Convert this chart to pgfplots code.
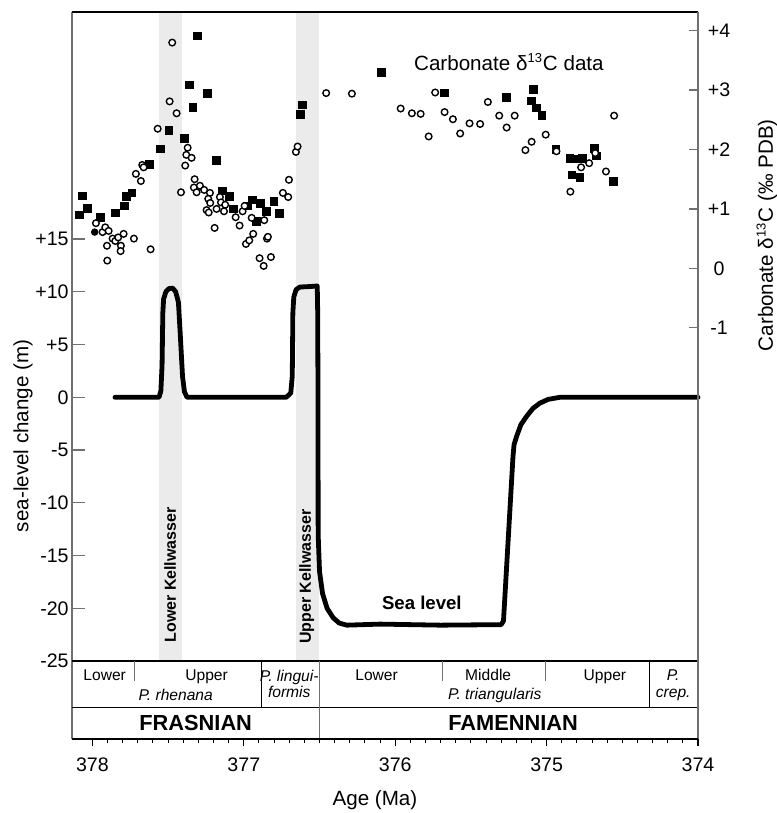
\documentclass[border=0pt]{standalone}
\usepackage{pgfplots}
\pgfplotsset{compat=1.18}
\usepackage{fontspec}
\setmainfont{Liberation Sans}
\definecolor{band}{HTML}{EBEBEB}
\definecolor{spine}{HTML}{707070}

\begin{document}
\begin{tikzpicture}
\pgfplotsset{
  common/.style={
    scale only axis, width=313pt, height=363.5pt,
    xmin=374, xmax=378.135, x dir=reverse,
    clip=false,
    /pgf/number format/assume math mode=true,
  }
}
% ---------------- left axis: sea level ----------------
\begin{axis}[common, name=main,
  ymin=-32.39, ymax=36.52,
  axis x line=none, axis y line*=left,
  tick align=inside,
  ytick={-25,-20,-15,-10,-5,0,5,10,15},
  yticklabels={-25,-20,-15,-10,-5,0,+5,+10,+15},
  major tick length=6.5pt,
  y axis line style={spine, line width=0.7pt},
  ytick style={spine, line width=0.7pt},
  yticklabel style={font=\fontsize{9.8}{11}\selectfont, inner sep=1.5pt},
  ylabel={sea-level change (m)},
  ylabel style={at={(axis description cs:-0.078,0.417)}, anchor=center, font=\fontsize{10.3}{12}\selectfont},
]
% Kellwasser bands
\fill[band] (axis cs:377.561,-25) rectangle (axis cs:377.411,36.52);
\fill[band] (axis cs:376.656,-25) rectangle (axis cs:376.506,36.52);
% top frame line
\draw[black, line width=0.6pt] (rel axis cs:0,1) -- (rel axis cs:1,1);
% stratigraphy table
\draw[black, line width=0.8pt] (axis cs:378.135,-25) -- (axis cs:374,-25);
\draw[black, line width=0.7pt] (axis cs:378.135,-29.42) -- (axis cs:374,-29.42);
\draw[spine, line width=0.7pt] (axis cs:377.724,-25) -- (axis cs:377.724,-26.9);
\draw[black, line width=0.6pt] (axis cs:376.885,-25) -- (axis cs:376.885,-29.42);
\draw[spine, line width=0.7pt] (axis cs:376.502,-25) -- (axis cs:376.502,-32.39);
\draw[spine, line width=0.7pt] (axis cs:375.687,-25) -- (axis cs:375.687,-26.9);
\draw[spine, line width=0.7pt] (axis cs:375.007,-25) -- (axis cs:375.007,-26.9);
\draw[black, line width=0.6pt] (axis cs:374.322,-25) -- (axis cs:374.322,-29.42);
\begin{scope}[every node/.style={font=\fontsize{7.8}{8.5}\selectfont, inner sep=0pt, anchor=base}]
\node at (axis cs:377.919,-26.80) {Lower};
\node at (axis cs:377.246,-26.80) {Upper};
\node at (axis cs:377.450,-28.72) {\itshape P. rhenana};
\node at (axis cs:376.700,-26.90) {\itshape P. lingui-};
\node at (axis cs:376.700,-28.50) {\itshape formis};
\node at (axis cs:376.123,-26.80) {Lower};
\node at (axis cs:375.386,-26.80) {Middle};
\node at (axis cs:375.342,-28.69) {\itshape P. triangularis};
\node at (axis cs:374.615,-26.80) {Upper};
\node at (axis cs:374.164,-26.80) {\itshape P.};
\node at (axis cs:374.164,-28.45) {\itshape crep.};
\end{scope}
\node[anchor=base, inner sep=0pt, font=\bfseries\fontsize{10.9}{12}\selectfont] at (axis cs:377.318,-31.60) {FRASNIAN};
\node[anchor=base, inner sep=0pt, font=\bfseries\fontsize{10.9}{12}\selectfont] at (axis cs:375.221,-31.60) {FAMENNIAN};
% labels
\node[rotate=90, font=\bfseries\fontsize{8}{9}\selectfont] at (axis cs:377.486,-16.84) {Lower Kellwasser};
\node[rotate=90, font=\bfseries\fontsize{8}{9}\selectfont] at (axis cs:376.585,-17.0) {Upper Kellwasser};
\node[font=\bfseries\fontsize{9.3}{11}\selectfont] at (axis cs:375.824,-19.5) {Sea level};
\node[font=\fontsize{10.3}{12}\selectfont] at (axis cs:375.249,31.78) {Carbonate δ\textsuperscript{\fontsize{6.5}{7}\selectfont 13}C data};
% sea-level curve
\addplot[black, line width=2.4pt, line join=round, line cap=round] coordinates {
(377.851,0) (377.560,0) (377.548,0.6) (377.540,3) (377.535,8) (377.530,9.3)
(377.515,10.0) (377.495,10.3) (377.470,10.35) (377.450,10.0) (377.432,9.0)
(377.420,6) (377.405,2) (377.392,0.5) (377.375,0)
(376.720,0) (376.690,0.4) (376.680,2) (376.676,8) (376.670,9.5) (376.655,10.2)
(376.630,10.45) (376.560,10.5) (376.515,10.55) (376.512,8) (376.510,0)
(376.509,-13) (376.500,-16.5) (376.480,-18.6) (376.450,-20.0) (376.410,-20.9)
(376.370,-21.4) (376.320,-21.6) (376.100,-21.5) (375.700,-21.6) (375.300,-21.55)
(375.285,-21.2) (375.280,-20) (375.222,-5.6) (375.215,-4.5) (375.198,-3.7)
(375.170,-2.6) (375.132,-1.8) (375.090,-1.05) (375.044,-0.55) (374.990,-0.2)
(374.912,0) (374.000,0)
};
\end{axis}
% ---------------- right axis: carbonate d13C ----------------
\begin{axis}[common,
  ymin=-7.924, ymax=4.315,
  axis x line=none, axis y line*=right,
  tick align=inside,
  ytick={-1,0,1,2,3,4},
  yticklabels={-1,0,+1,+2,+3,+4},
  major tick length=4.7pt,
  y axis line style={spine, line width=0.7pt},
  ytick style={spine, line width=0.7pt},
  yticklabel style={font=\fontsize{9.8}{11}\selectfont, inner sep=0pt, anchor=center, xshift=10.5pt},
  ylabel={Carbonate δ\textsuperscript{\fontsize{6.5}{7}\selectfont 13}C (‰ PDB)},
  ylabel style={at={(axis description cs:1.110,0.693)}, anchor=center, rotate=0, font=\fontsize{10.3}{12}\selectfont},
]
\addplot[only marks, mark=square*, mark size=1.9pt, black] coordinates {
(378.087,0.90) (378.067,1.22) (378.032,1.01) (377.946,0.86) (377.847,0.93) (377.787,1.05)
(377.774,1.21) (377.739,1.27) (377.622,1.75) (377.552,2.01) (377.495,2.32) (377.391,2.19)
(377.358,3.09) (377.336,2.71) (377.308,3.91) (377.242,2.94) (377.182,1.82) (377.143,1.30)
(377.094,1.21) (377.070,1.00) (376.975,1.05) (376.945,1.15) (376.918,0.79) (376.892,1.09)
(376.849,0.96) (376.801,1.13) (376.764,0.92) (376.627,2.59) (376.614,2.75) (376.092,3.30)
(375.676,2.95) (375.264,2.88) (375.088,3.01) (375.099,2.82) (375.066,2.70) (375.031,2.57)
(374.939,2.00) (374.846,1.85) (374.808,1.84) (374.762,1.85) (374.686,2.02) (374.671,1.89)
(374.832,1.57) (374.780,1.53) (374.560,1.46)
};
\addplot[only marks, mark=*, mark size=1.65pt, mark options={fill=white, draw=black, line width=0.7pt}] coordinates {
(377.977,0.76) (377.933,0.61) (377.915,0.69) (377.893,0.63) (377.904,0.38) (377.902,0.13)
(377.867,0.50) (377.849,0.46) (377.830,0.52) (377.812,0.38) (377.814,0.29) (377.794,0.58)
(377.726,0.50) (377.713,1.59) (377.680,1.47) (377.671,1.74) (377.662,1.70) (377.616,0.32)
(377.569,2.35) (377.490,2.81) (377.473,3.80) (377.444,2.61) (377.415,1.28) (377.387,1.73)
(377.380,1.91) (377.371,2.03) (377.345,1.86) (377.325,1.50) (377.330,1.36) (377.312,1.28)
(377.290,1.39) (377.262,1.32) (377.224,1.27) (377.235,1.17) (377.222,1.10) (377.246,0.98)
(377.232,0.94) (377.193,0.68) (377.180,1.00) (377.158,1.20) (377.151,1.11) (377.131,0.96)
(377.123,1.07) (377.054,0.86) (377.028,0.72) (377.008,0.96) (376.995,1.05) (376.986,0.41)
(376.964,0.47) (376.948,0.85) (376.938,0.58) (376.896,0.17) (376.869,0.04) (376.865,0.81)
(376.847,0.50) (376.841,0.53) (376.821,0.19) (376.742,1.27) (376.707,1.20) (376.702,1.49)
(376.656,1.96) (376.645,2.05) (376.456,2.95) (376.286,2.94) (375.964,2.69) (375.890,2.61)
(375.832,2.60) (375.779,2.22) (375.736,2.96) (375.674,2.63) (375.619,2.51) (375.571,2.27)
(375.509,2.44) (375.439,2.43) (375.388,2.80) (375.313,2.57) (375.264,2.37) (375.211,2.57)
(375.140,1.99) (375.099,2.13) (375.006,2.25) (374.935,1.97) (374.843,1.29) (374.772,1.70)
(374.719,1.77) (374.679,1.94) (374.608,1.63) (374.554,2.57)
};
\addplot[only marks, mark=*, mark size=1.65pt, black] coordinates {(377.985,0.61)};
\end{axis}
% ---------------- bottom axis: age ----------------
\begin{axis}[common,
  ymin=0, ymax=1,
  hide y axis, axis x line*=bottom,
  tick align=outside,
  xtick={374,375,376,377,378},
  xticklabels={374,375,376,377,378},
  minor x tick num=9,
  major tick length=3.5pt, minor tick length=2pt,
  x axis line style={black, line width=0.8pt},
  xtick style={black, line width=0.6pt},
  minor x tick style={black, line width=0.5pt},
  xticklabel style={font=\fontsize{9.8}{11}\selectfont, yshift=-2.5pt},
  xlabel={Age (Ma)},
  xlabel style={at={(axis description cs:0.484,-0.0835)}, anchor=center, inner sep=0pt, font=\fontsize{10.3}{12}\selectfont},
]
\end{axis}
\pgfresetboundingbox
\path[use as bounding box] ([shift={(-36pt,-37pt)}]main.south west) rectangle ([shift={(39pt,6pt)}]main.north east);
\end{tikzpicture}
\end{document}
